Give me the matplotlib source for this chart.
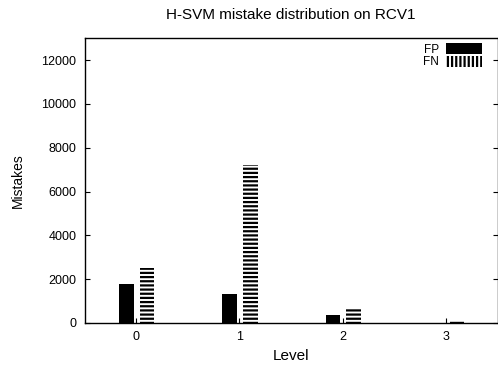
import matplotlib
matplotlib.use("Agg")
import matplotlib.pyplot as plt
from matplotlib.patches import Rectangle
import numpy as np

plt.rcParams['font.family'] = ['Liberation Sans', 'DejaVu Sans']
plt.rcParams['hatch.linewidth'] = 1.6

levels = [0, 1, 2, 3]
fp_values = [1760, 1310, 370, 0]
fn_values = [2500, 7220, 620, 90]
series_labels = ["FP", "FN"]
yticks = [0, 2000, 4000, 6000, 8000, 10000, 12000]

fig = plt.figure(figsize=(4.98, 3.67), dpi=100)
ax = fig.add_axes([0.170, 0.120, 0.829, 0.776])

x = np.array(levels, dtype=float)
w = 0.14
ax.bar(x - 0.095, fp_values, width=w, color='black', edgecolor='black', linewidth=0)
ax.bar(x + 0.105, fn_values, width=w, color='white', edgecolor='black',
       linewidth=0, hatch='----')

ax.set_xlim(-0.5, 3.5)
ax.set_ylim(0, 13000)
ax.set_xticks(levels)
ax.set_yticks(yticks)
ax.tick_params(direction='in', length=3.5, width=0.8, labelsize=9, colors='black',
               right=True, top=False)
ax.tick_params(axis='y', pad=6)
ax.tick_params(axis='x', pad=6)
for s in ax.spines.values():
    s.set_linewidth(1.0)

ax.set_title("H-SVM mistake distribution on RCV1", fontsize=11, pad=14)
ax.set_xlabel("Level", fontsize=11, labelpad=4)
ax.set_ylabel("Mistakes", fontsize=10, labelpad=12)

h1 = Rectangle((0, 0), 1, 1, facecolor='black', edgecolor='black', linewidth=0)
h2 = Rectangle((0, 0), 1, 1, facecolor='white', edgecolor='black', linewidth=0, hatch='||||')
ax.legend([h1, h2], series_labels, loc='upper right', markerfirst=False, frameon=False,
          fontsize=8.5, handlelength=3.0, handleheight=1.05, labelspacing=0.0,
          handletextpad=0.6, borderaxespad=0.2, borderpad=0.1,
          bbox_to_anchor=(0.97, 0.995))

fig.savefig("out.png", dpi=100)
